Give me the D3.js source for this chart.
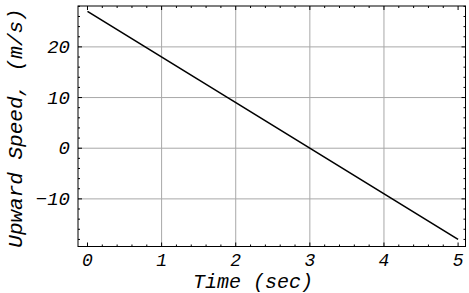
<!DOCTYPE html>
<meta charset="utf-8">
<style>
  body { margin: 0; background: #fff; }
  text { font-family: "Liberation Mono", "DejaVu Sans Mono", monospace; font-style: italic; fill: #000; }
</style>
<body>
<script src="https://d3js.org/d3.v7.min.js"></script>
<script>

var width = 469,
    height = 293;

// data
var times = [0, 5];
var speeds = [27, -18];
var xTicks = [0, 1, 2, 3, 4, 5];
var yTicks = [-10, 0, 10, 20];
var xGrid = [1, 2, 3, 4];
var yGrid = [-10, 0, 10, 20];

var pLeft = 78, pRight = 465.5, pTop = 6, pBottom = 246.5;

var x = d3.scaleLinear().domain([-0.128, 5.1]).range([pLeft, pRight]);
var y = d3.scaleLinear().domain([-19.4, 28.07]).range([pBottom, pTop]);

var svg = d3.select("body").append("svg")
    .attr("width", width)
    .attr("height", height);

// grid
svg.append("g").selectAll("line")
    .data(xGrid)
    .enter().append("line")
      .attr("x1", function(d) { return x(d); })
      .attr("x2", function(d) { return x(d); })
      .attr("y1", pTop)
      .attr("y2", pBottom)
      .attr("stroke", "#a8a8a8")
      .attr("stroke-width", 1);

svg.append("g").selectAll("line")
    .data(yGrid)
    .enter().append("line")
      .attr("y1", function(d) { return y(d); })
      .attr("y2", function(d) { return y(d); })
      .attr("x1", pLeft)
      .attr("x2", pRight)
      .attr("stroke", "#a8a8a8")
      .attr("stroke-width", 1);

// inside ticks on all four sides
var xMinor = d3.range(0, 5.01, 0.2);
var yMinor = d3.range(-18, 28.01, 2);

function tickLen(v, step) {
  return Math.abs(v / step - Math.round(v / step)) < 1e-6 ? 4 : 2;
}

var ticks = svg.append("g").attr("stroke", "#000").attr("stroke-width", 1);
xMinor.forEach(function(v) {
  var l = tickLen(v, 1);
  ticks.append("line").attr("x1", x(v)).attr("x2", x(v)).attr("y1", pBottom).attr("y2", pBottom - l);
  ticks.append("line").attr("x1", x(v)).attr("x2", x(v)).attr("y1", pTop).attr("y2", pTop + l);
});
yMinor.forEach(function(v) {
  var l = tickLen(v, 10);
  ticks.append("line").attr("y1", y(v)).attr("y2", y(v)).attr("x1", pLeft).attr("x2", pLeft + l);
  ticks.append("line").attr("y1", y(v)).attr("y2", y(v)).attr("x1", pRight).attr("x2", pRight - l);
});

// frame
svg.append("rect")
    .attr("x", pLeft)
    .attr("y", pTop)
    .attr("width", pRight - pLeft)
    .attr("height", pBottom - pTop)
    .attr("fill", "none")
    .attr("stroke", "#000")
    .attr("stroke-width", 1);

// the line
var line = d3.line()
    .x(function(d, i) { return x(times[i]); })
    .y(function(d) { return y(d); });

svg.append("path")
    .datum(speeds)
    .attr("d", line)
    .attr("fill", "none")
    .attr("stroke", "#000")
    .attr("stroke-width", 1.6);

// tick labels
svg.append("g").selectAll("text")
    .data(xTicks)
    .enter().append("text")
      .attr("x", function(d) { return x(d); })
      .attr("y", 266)
      .attr("text-anchor", "middle")
      .style("font-size", "18px")
      .text(function(d) { return d; });

svg.append("g").selectAll("text")
    .data(yTicks)
    .enter().append("text")
      .attr("x", 70)
      .attr("y", function(d) { return y(d) + 6; })
      .attr("text-anchor", "end")
      .style("font-size", "19px")
      .text(function(d) { return d < 0 ? "\u2212" + Math.abs(d) : d; });

// axis titles
svg.append("text")
    .attr("x", 253)
    .attr("y", 288)
    .attr("text-anchor", "middle")
    .style("font-size", "20px")
    .text("Time (sec)");

svg.append("text")
    .attr("transform", "translate(22,128) rotate(-90)")
    .attr("text-anchor", "middle")
    .style("font-size", "21px")
    .text("Upward Speed, (m/s)");

</script>
</body>
